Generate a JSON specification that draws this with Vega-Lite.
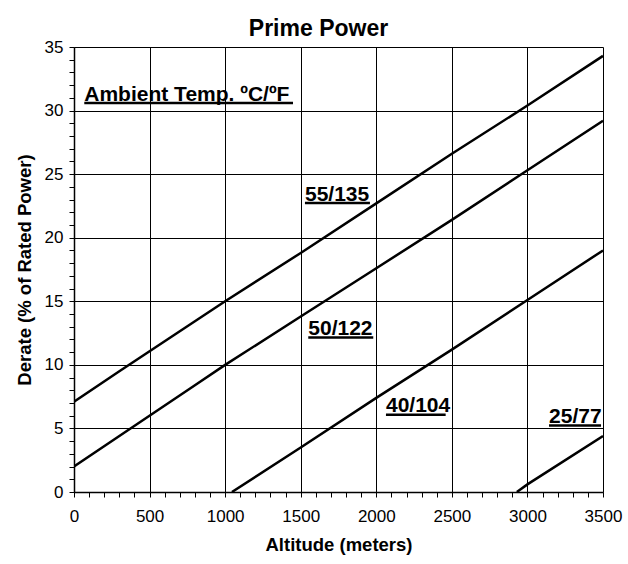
{
  "$schema": "https://vega.github.io/schema/vega-lite/v6.json",
  "width": 529,
  "height": 445,
  "autosize": "none",
  "padding": {"left": 74, "top": 47, "right": 25, "bottom": 72},
  "background": "white",
  "title": {
    "text": "Prime Power",
    "font": "Liberation Sans",
    "fontSize": 23,
    "fontWeight": "bold",
    "color": "black",
    "anchor": "middle",
    "frame": "bounds",
    "baseline": "alphabetic",
    "offset": -21
  },
  "config": {
    "view": {"stroke": null},
    "font": "Liberation Sans"
  },
  "datasets": {
    "curves": [
      {"series": "55/135", "x": 0, "y": 7.1},
      {"series": "55/135", "x": 300, "y": 9.5},
      {"series": "55/135", "x": 800, "y": 13.43},
      {"series": "55/135", "x": 1000, "y": 15.0},
      {"series": "55/135", "x": 1500, "y": 18.8},
      {"series": "55/135", "x": 2000, "y": 22.7},
      {"series": "55/135", "x": 2500, "y": 26.6},
      {"series": "55/135", "x": 3000, "y": 30.4},
      {"series": "55/135", "x": 3500, "y": 34.3},
      {"series": "50/122", "x": 0, "y": 2.0},
      {"series": "50/122", "x": 300, "y": 4.4},
      {"series": "50/122", "x": 800, "y": 8.4},
      {"series": "50/122", "x": 1000, "y": 10.0},
      {"series": "50/122", "x": 1500, "y": 13.8},
      {"series": "50/122", "x": 2000, "y": 17.6},
      {"series": "50/122", "x": 2500, "y": 21.4},
      {"series": "50/122", "x": 3000, "y": 25.3},
      {"series": "50/122", "x": 3500, "y": 29.2},
      {"series": "40/104", "x": 1045, "y": 0.0},
      {"series": "40/104", "x": 1500, "y": 3.5},
      {"series": "40/104", "x": 2000, "y": 7.4},
      {"series": "40/104", "x": 2500, "y": 11.2},
      {"series": "40/104", "x": 3000, "y": 15.1},
      {"series": "40/104", "x": 3500, "y": 19.0},
      {"series": "25/77", "x": 2930, "y": 0.0},
      {"series": "25/77", "x": 3000, "y": 0.6},
      {"series": "25/77", "x": 3500, "y": 4.4}
    ],
    "labels": [
      {"label": "Ambient Temp. ºC/ºF", "x": 68, "xend": 1449, "y": 30.79},
      {"label": "55/135", "x": 1528, "xend": 1958, "y": 22.92},
      {"label": "50/122", "x": 1550, "xend": 1980, "y": 12.35},
      {"label": "40/104", "x": 2064, "xend": 2459, "y": 6.27},
      {"label": "25/77", "x": 3143, "xend": 3487, "y": 5.43}
    ]
  },
  "encoding": {
    "x": {
      "field": "x",
      "type": "quantitative",
      "scale": {"domain": [0, 3500], "nice": false, "zero": false},
      "axis": {
        "title": "Altitude (meters)",
        "titleFont": "Liberation Sans",
        "titleFontSize": 18.5,
        "titleFontWeight": "bold",
        "titleColor": "black",
        "titlePadding": 11,
        "values": [0,100,200,300,400,500,600,700,800,900,1000,1100,1200,1300,1400,1500,1600,1700,1800,1900,2000,2100,2200,2300,2400,2500,2600,2700,2800,2900,3000,3100,3200,3300,3400,3500],
        "format": "d",
        "labelExpr": "datum.value % 500 === 0 ? datum.label : ''",
        "labelFont": "Liberation Sans",
        "labelFontSize": 17,
        "labelColor": "black",
        "labelPadding": 11,
        "labelOverlap": false,
        "labelFlush": false,
        "tickSize": 5,
        "tickColor": "black",
        "tickWidth": 1,
        "domainColor": "black",
        "domainWidth": 1.5,
        "grid": true,
        "gridColor": "black",
        "gridWidth": 1,
        "gridOpacity": {"condition": {"test": "datum.value % 500 === 0", "value": 1}, "value": 0}
      }
    },
    "y": {
      "field": "y",
      "type": "quantitative",
      "scale": {"domain": [0, 35], "nice": false, "zero": false},
      "axis": {
        "title": "Derate (% of Rated Power)",
        "titleFont": "Liberation Sans",
        "titleFontSize": 18.5,
        "titleFontWeight": "bold",
        "titleColor": "black",
        "titlePadding": 10,
        "values": [0,1,2,3,4,5,6,7,8,9,10,11,12,13,14,15,16,17,18,19,20,21,22,23,24,25,26,27,28,29,30,31,32,33,34,35],
        "format": "d",
        "labelExpr": "datum.value % 5 === 0 ? datum.label : ''",
        "labelFont": "Liberation Sans",
        "labelFontSize": 17,
        "labelColor": "black",
        "labelPadding": 6,
        "labelOverlap": false,
        "labelFlush": false,
        "tickSize": 5,
        "tickColor": "black",
        "tickWidth": 1,
        "domainColor": "black",
        "domainWidth": 1.5,
        "grid": true,
        "gridColor": "black",
        "gridWidth": 1,
        "gridOpacity": {"condition": {"test": "datum.value % 5 === 0", "value": 1}, "value": 0}
      }
    }
  },
  "layer": [
    {
      "data": {"name": "curves"},
      "mark": {"type": "line", "color": "black", "strokeWidth": 2.5, "clip": true},
      "encoding": {
        "detail": {"field": "series"}
      }
    },
    {
      "data": {"name": "labels"},
      "mark": {"type": "text", "align": "left", "baseline": "alphabetic", "font": "Liberation Sans", "fontSize": 21, "fontWeight": "bold", "color": "black"},
      "encoding": {
        "text": {"field": "label"}
      }
    },
    {
      "data": {"name": "labels"},
      "mark": {"type": "rule", "color": "black", "strokeWidth": 2.5, "yOffset": 2.5},
      "encoding": {
        "x2": {"field": "xend"}
      }
    }
  ]
}
